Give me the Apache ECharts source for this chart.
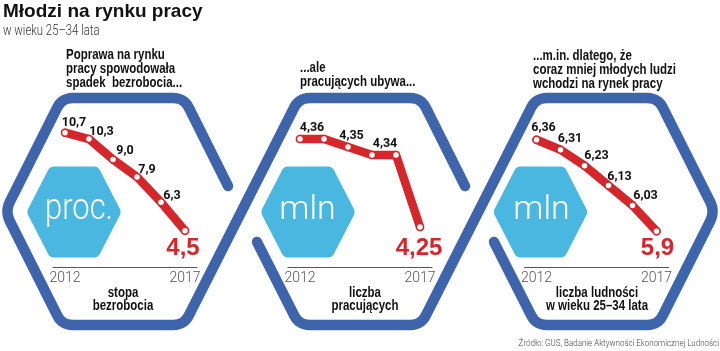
<!DOCTYPE html>
<html>
<head>
<meta charset="utf-8">
<script src="https://cdn.jsdelivr.net/npm/echarts@6/dist/echarts.min.js"></script>
<style>html,body{margin:0;padding:0;background:#fff}#c{width:720px;height:351px}</style>
</head>
<body>
<div id="c"></div>
<script>
// ---- data ----
const years = ['2012', '2013', '2014', '2015', '2016', '2017'];
const unemploymentRate = [10.7, 10.3, 9.0, 7.9, 6.3, 4.5];
const employed = [4.36, 4.36, 4.35, 4.34, 4.34, 4.25];
const population = [6.36, 6.31, 6.23, 6.13, 6.03, 5.9];
const employedLabelShown = [true, false, true, true, false, true];
const units = ['proc.', 'mln', 'mln'];
const headers = [
  'Poprawa na rynku\npracy spowodowała\nspadek  bezrobocia...',
  '...ale\npracujących ubywa...',
  '...m.in. dlatego, że\ncoraz mniej młodych ludzi\nwchodzi na rynek pracy'
];
const footers = ['stopa\nbezrobocia', 'liczba\npracujących', 'liczba ludności\nw wieku 25–34 lata'];
const titleText = 'Młodzi na rynku pracy';
const subtitleText = 'w wieku 25–34 lata';
const sourceText = 'Źródło: GUS, Badanie Aktywności Ekonomicznej Ludności';

// ---- style ----
const RED = '#d5262b', DARK = '#3e64ab', LIGHT = '#4ab7e0';
const BOLD = "'Liberation Sans',Arial,sans-serif";
const LABELF = "Roboto,'Liberation Sans',sans-serif";
const LIGHTF = "Roboto,'Open Sans',Lato,sans-serif";

function roundPts(pts, r, closed) {
  const n = pts.length, out = [];
  const corner = (a, p, b) => {
    const la = Math.hypot(a[0]-p[0], a[1]-p[1]), lb = Math.hypot(b[0]-p[0], b[1]-p[1]);
    const p1 = [p[0]+(a[0]-p[0])/la*r, p[1]+(a[1]-p[1])/la*r];
    const p2 = [p[0]+(b[0]-p[0])/lb*r, p[1]+(b[1]-p[1])/lb*r];
    for (let k = 0; k <= 8; k++) { const t = k/8, u = 1-t;
      out.push([u*u*p1[0]+2*u*t*p[0]+t*t*p2[0], u*u*p1[1]+2*u*t*p[1]+t*t*p2[1]]); }
  };
  if (closed) { for (let i = 0; i < n; i++) corner(pts[(i-1+n)%n], pts[i], pts[(i+1)%n]); }
  else { out.push(pts[0]); for (let i = 1; i < n-1; i++) corner(pts[i-1], pts[i], pts[i+1]); out.push(pts[n-1]); }
  return out;
}

const frameA = [[228,186],[184,98],[62,98],[5,211.5],[62,325],[184,325],[299,98],[421,98],[465,186]];
const frameB = [[257,242],[299,325],[421,325],[536,98],[658,98],[715,211.5],[658,325],[536,325],[494,242]];
const hexCenters = [[74,212],[308,212],[540.5,212]];
const unitX = [79, 307.5, 541.5];
const unitSize = [36, 34, 34];
const unitScale = [0.86, 1, 1];
const headerX = [66, 300, 533], headerTop = [48, 61, 49];
const footerX = [123, 365, 597];

const graphic = [];
[frameA, frameB].forEach(f => graphic.push({type:'polyline', z:1, shape:{points: roundPts(f, 11, false)},
  style:{stroke: DARK, lineWidth: 10.5, fill: null, lineCap:'round', lineJoin:'round'}}));
hexCenters.forEach(([cx, cy], i) => {
  const hw = 47.5, tw = 24, hh = 45.5;
  const pts = [[cx-tw,cy-hh],[cx+tw,cy-hh],[cx+hw,cy],[cx+tw,cy+hh],[cx-tw,cy+hh],[cx-hw,cy]];
  graphic.push({type:'polygon', z:1, shape:{points: roundPts(pts, 4, true)}, style:{fill: LIGHT}});
  graphic.push({type:'text', z:2, x: unitX[i], y: 210, scaleX: unitScale[i], style:{text: units[i], fill:'#fff', font:"300 " + unitSize[i] + "px "+LIGHTF, textAlign:'center', textVerticalAlign:'middle'}});
  graphic.push({type:'text', z:2, x: headerX[i], y: headerTop[i], scaleX: 0.82, style:{text: headers[i], fill:'#111', font:"bold 14px "+BOLD, lineHeight: 14, textAlign:'left', textVerticalAlign:'top'}});
  graphic.push({type:'text', z:2, x: footerX[i], y: 286, scaleX: 0.82, style:{text: footers[i], fill:'#111', font:"bold 14px "+BOLD, lineHeight: 13.5, textAlign:'center', textVerticalAlign:'top'}});
});
graphic.push({type:'text', x: 3, y: 12, style:{text: titleText, fill:'#111', font:"bold 19px "+BOLD, textVerticalAlign:'middle'}});
graphic.push({type:'text', x: 3, y: 31.5, scaleX: 0.81, style:{text: subtitleText, fill:'#333', font:"300 14px "+LIGHTF, textVerticalAlign:'middle'}});
graphic.push({type:'text', x: 719, y: 344, scaleX: 0.94, style:{text: sourceText, fill:'#444', font:"300 8.5px "+LIGHTF, textAlign:'right', textVerticalAlign:'middle'}});

const grids = [
  {left: 53, width: 144, top: 109, bottom: 84},
  {left: 288, width: 144, top: 107, bottom: 84},
  {left: 524.5, width: 144, top: 108, bottom: 84}
];
const yRanges = [[2.2, 12.2], [4.2, 4.4], [5.72, 6.52]];
const fmt = [v => v.toFixed(1).replace('.', ','), v => String(v).replace('.', ','), v => String(v).replace('.', ',')];
const smallOffsets = [
  [[9,-10],[12.5,-7],[12,-8.5],[10,-7],[11,-6]],
  [[12,-11],[0,0],[3.5,-11.5],[13,-11],[0,0]],
  [[7,-12],[9.5,-10.5],[12,-9.5],[11,-9],[13,-9.5]]
];
const bigOffsets = [[-2,17.5],[-1,21],[1,17.5]];

function makeData(values, p, shown) {
  return values.map((v, i) => {
    const last = i === values.length - 1;
    const show = shown ? shown[i] : true;
    return {value: v, label: last ?
      {show: true, position: 'inside', offset: bigOffsets[p], formatter: () => fmt[p](v), color: RED, fontSize: 24, fontWeight: 'bold', fontFamily: BOLD} :
      {show: show, position: 'inside', offset: smallOffsets[p][i], formatter: () => fmt[p](v), color: '#111', fontSize: 12.5, fontWeight: 'bold', fontFamily: LABELF}};
  });
}
const seriesValues = [unemploymentRate, employed, population];

const option = {
  animation: false,
  grid: grids,
  xAxis: grids.map((g, i) => ({
    type: 'category', gridIndex: i, data: years, boundaryGap: true,
    axisLine: {lineStyle: {color: '#555', width: 1}},
    axisTick: {inside: true, length: 4, interval: 0, lineStyle: {color: '#555'}},
    axisLabel: {interval: (idx) => idx === 0 || idx === years.length - 1, color: '#555', fontSize: 14, fontFamily: LIGHTF, fontWeight: 300, margin: 4},
    splitLine: {show: false}
  })),
  yAxis: grids.map((g, i) => ({type: 'value', gridIndex: i, min: yRanges[i][0], max: yRanges[i][1], show: false})),
  series: seriesValues.map((vals, i) => ({
    type: 'line', xAxisIndex: i, yAxisIndex: i, z: 5,
    data: makeData(vals, i, i === 1 ? employedLabelShown : null),
    lineStyle: {color: RED, width: 8.5, join: 'round', cap: 'round'},
    symbol: 'circle', symbolSize: 7, showAllSymbol: true,
    itemStyle: {color: '#fff', borderColor: RED, borderWidth: 1.5},
    clip: false
  })),
  graphic: {elements: graphic}
};
const chart = echarts.init(document.getElementById('c'));
chart.setOption(option);
</script>
</body>
</html>
